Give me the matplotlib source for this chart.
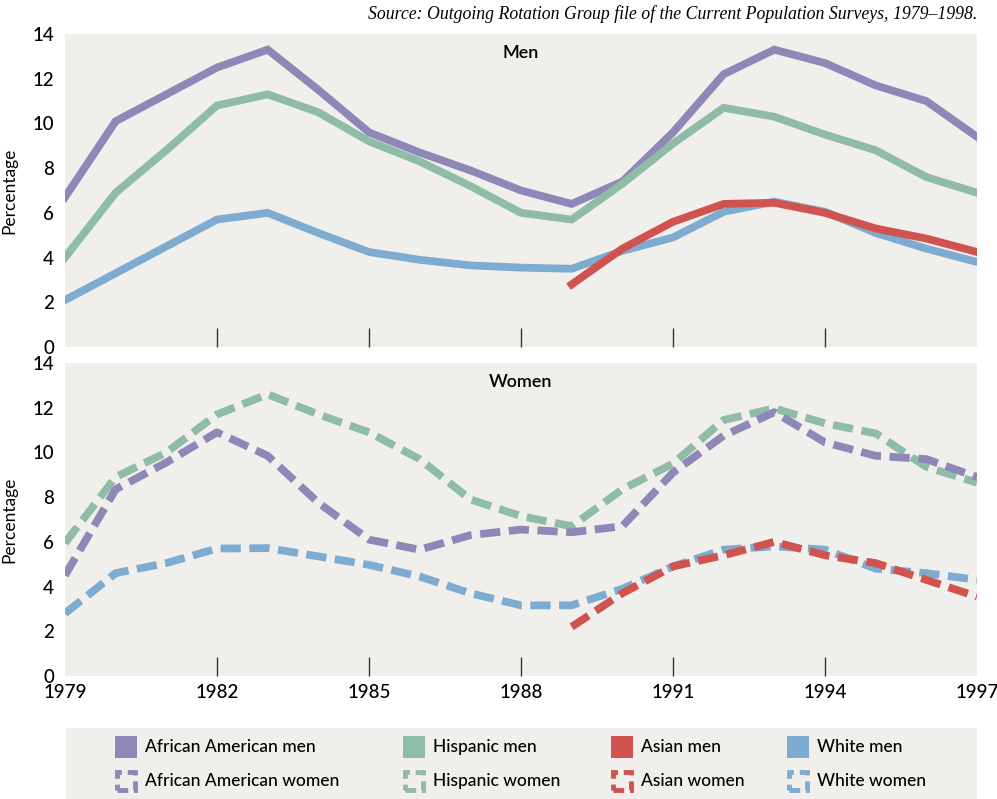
import matplotlib.pyplot as plt
import numpy as np
from matplotlib.patches import Rectangle

YEARS = list(range(1979, 1998))
ASIAN_YEARS = list(range(1989, 1998))

# Men, percentage
aa_men = [6.7, 10.1, 11.3, 12.5, 13.3, 11.5, 9.6, 8.7, 7.9, 7.0, 6.4, 7.4, 9.6, 12.2, 13.3, 12.7, 11.7, 11.0, 9.4]
hisp_men = [4.0, 6.9, 8.8, 10.8, 11.3, 10.5, 9.2, 8.3, 7.2, 6.0, 5.7, 7.3, 9.1, 10.7, 10.3, 9.5, 8.8, 7.6, 6.9]
white_men = [2.1, 3.3, 4.5, 5.7, 6.0, 5.1, 4.25, 3.9, 3.65, 3.55, 3.5, 4.3, 4.9, 6.05, 6.5, 6.05, 5.1, 4.4, 3.8]
asian_men = [2.8, 4.4, 5.6, 6.4, 6.45, 6.0, 5.3, 4.85, 4.25]

# Women, percentage
aa_women = [4.5, 8.35, 9.55, 10.9, 9.85, 7.75, 6.1, 5.65, 6.3, 6.55, 6.43, 6.7, 9.1, 10.75, 11.8, 10.45, 9.85, 9.7, 8.9]
hisp_women = [5.95, 8.9, 10.0, 11.7, 12.6, 11.7, 10.9, 9.7, 7.9, 7.15, 6.7, 8.35, 9.5, 11.45, 11.97, 11.3, 10.85, 9.35, 8.65]
white_women = [2.8, 4.6, 5.05, 5.7, 5.72, 5.35, 4.97, 4.45, 3.7, 3.16, 3.16, 3.9, 4.9, 5.65, 5.8, 5.65, 4.8, 4.6, 4.3]
asian_women = [2.2, 3.7, 4.9, 5.4, 6.0, 5.4, 5.05, 4.3, 3.55]

TICK_YEARS = list(range(1979, 1998, 3))

PURPLE = "#8e88b8"
GREEN = "#8fbca6"
RED = "#d05350"
BLUE = "#7eabd0"
BG = "#f0efeb"

plt.rcParams["font.family"] = ["Lato", "DejaVu Sans"]

fig = plt.figure(figsize=(9.97, 7.99), dpi=100)
ax_men = fig.add_axes([65 / 997, 1 - 347 / 799, 912 / 997, 313 / 799])
ax_women = fig.add_axes([65 / 997, 1 - 676 / 799, 912 / 997, 313 / 799])

LW = 5.6
DASH = (2.6, 1.1)

ax_men.plot(YEARS, aa_men, color=PURPLE, lw=LW, solid_joinstyle="miter")
ax_men.plot(YEARS, hisp_men, color=GREEN, lw=LW, solid_joinstyle="miter")
ax_men.plot(YEARS, white_men, color=BLUE, lw=LW, solid_joinstyle="miter")
ax_men.plot(ASIAN_YEARS, asian_men, color=RED, lw=LW, solid_joinstyle="miter")

ax_women.plot(YEARS, hisp_women, color=GREEN, lw=LW, dashes=DASH)
ax_women.plot(YEARS, aa_women, color=PURPLE, lw=LW, dashes=DASH)
ax_women.plot(YEARS, white_women, color=BLUE, lw=LW, dashes=DASH)
ax_women.plot(ASIAN_YEARS, asian_women, color=RED, lw=LW, dashes=DASH)

for ax, title in [(ax_men, "Men"), (ax_women, "Women")]:
    ax.set_facecolor(BG)
    ax.set_xlim(1979, 1997)
    ax.set_ylim(0, 14)
    for s in ax.spines.values():
        s.set_visible(False)
    ax.set_yticks(range(0, 15, 2))
    ax.set_yticklabels([str(v) for v in range(0, 15, 2)], fontweight="medium")
    ax.tick_params(axis="y", length=0, pad=8, labelsize=13.5)
    ax.set_xticks(TICK_YEARS)
    ax.set_xticklabels([str(v) for v in TICK_YEARS], fontweight="medium")
    ax.tick_params(axis="x", direction="in", length=14, width=1, color="#333333",
                   labelsize=13.5, pad=6)
    # no tick marks at the panel edges
    ticks = ax.xaxis.get_major_ticks()
    ticks[0].tick1line.set_visible(False)
    ticks[-1].tick1line.set_visible(False)
    ax.set_ylabel("Percentage", fontsize=12.5)
    ax.yaxis.set_label_coords(-0.052, 0.5)
    ax.text(0.5, 0.94, title, transform=ax.transAxes, ha="center", va="center",
            fontsize=13, fontweight="semibold")

ax_men.tick_params(axis="x", labelbottom=False)

fig.text(977 / 997, 1 - 14 / 799,
         "Source: Outgoing Rotation Group file of the Current Population Surveys, 1979\u20131998.",
         ha="right", va="center", fontsize=12.8, style="italic", family="Liberation Serif")

# legend panel
leg = fig.add_axes([66 / 997, 0, 911 / 997, 71 / 799])
leg.set_facecolor(BG)
leg.set_xlim(66, 977)
leg.set_ylim(0, 71)
leg.set_xticks([])
leg.set_yticks([])
for s in leg.spines.values():
    s.set_visible(False)

legend_labels = ["African American", "Hispanic", "Asian", "White"]
legend_colors = [PURPLE, GREEN, RED, BLUE]
col_x = [115, 403, 611, 787]
for name, c, x in zip(legend_labels, legend_colors, col_x):
    leg.add_patch(Rectangle((x, 41), 22, 22, facecolor=c, edgecolor="none"))
    leg.text(x + 30, 52, f"{name} men", va="center", fontsize=12.5, fontweight="medium")
    leg.add_patch(Rectangle((x + 2, 9), 18, 18, facecolor="none", edgecolor=c,
                            lw=3.5, linestyle=(0, (2.2, 1.2))))
    leg.text(x + 30, 18, f"{name} women", va="center", fontsize=12.5, fontweight="medium")

fig.savefig("out.png", dpi=100)
